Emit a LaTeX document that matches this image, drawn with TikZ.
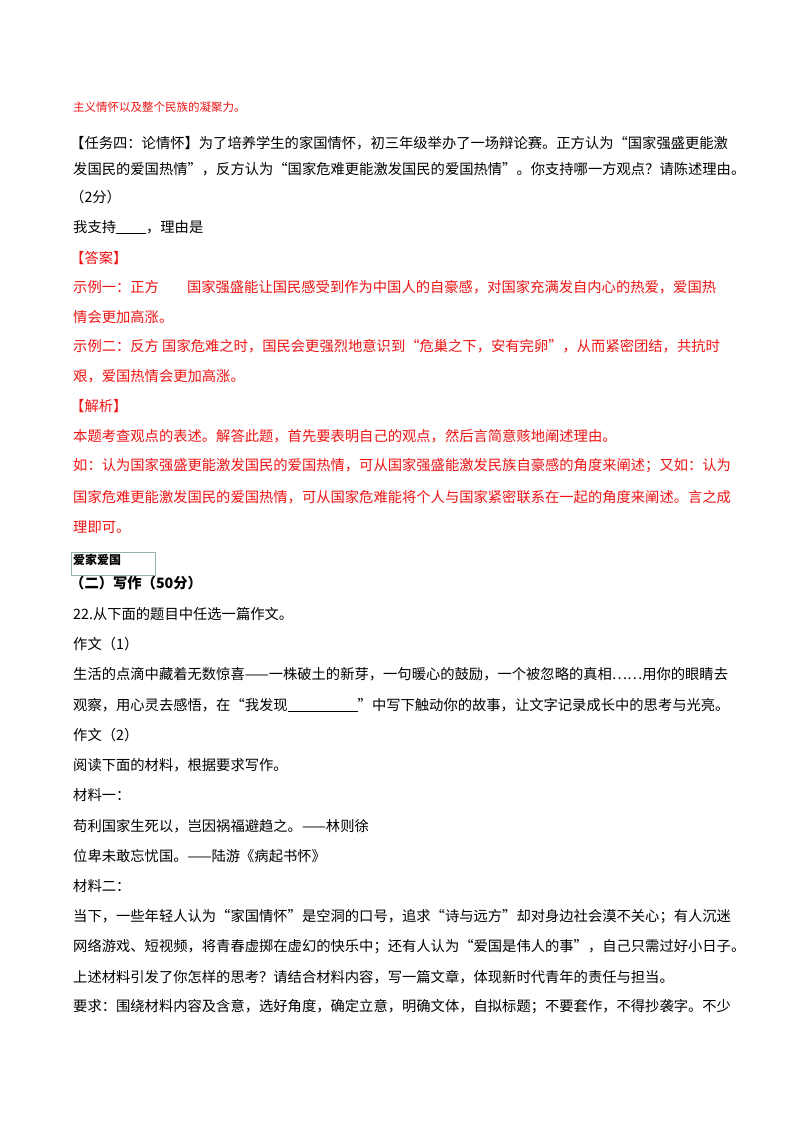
\documentclass[tikz,border=0pt]{standalone}
\usepackage{fontspec}
\newfontfamily\cjk{Noto Sans CJK SC}
\definecolor{ansred}{RGB}{240,20,20}
\begin{document}
\begin{tikzpicture}[x=1pt,y=-1pt,
  ln/.style={anchor=west,inner sep=0pt,font=\cjk\fontsize{14.3}{16}\selectfont},
  rl/.style={ln,text=ansred},
  bl/.style={ln,font=\cjk\bfseries\fontsize{14.3}{16}\selectfont}]
\useasboundingbox[fill=white] (0,0) rectangle (800,1132);
\node[rl,font=\cjk\fontsize{11.5}{14}\selectfont] (l1) at (73,107) {主义情怀以及整个民族的凝聚力。};
\node[ln] (l2) at (70,143) {【任务四：论情怀】为了培养学生的家国情怀，初三年级举办了一场辩论赛。正方认为“国家强盛更能激};
\node[ln] (l3) at (73,169) {发国民的爱国热情”，反方认为“国家危难更能激发国民的爱国热情”。你支持哪一方观点？请陈述理由。};
\node[ln] (l4) at (70,197) {（2分）};
\node[ln] (l5) at (73,227) {我支持\underline{\hspace{30pt}}，理由是};
\node[rl] (l6) at (70,258) {【答案】};
\node[rl] (l7) at (73,287) {示例一：正方\hspace{28pt}国家强盛能让国民感受到作为中国人的自豪感，对国家充满发自内心的热爱，爱国热};
\node[rl] (l8) at (73,317) {情会更加高涨。};
\node[rl] (l9) at (73,346) {示例二：反方 国家危难之时，国民会更强烈地意识到“危巢之下，安有完卵”，从而紧密团结，共抗时};
\node[rl] (l10) at (73,376) {艰，爱国热情会更加高涨。};
\node[rl] (l11) at (70,406) {【解析】};
\node[rl] (l12) at (73,436) {本题考查观点的表述。解答此题，首先要表明自己的观点，然后言简意赅地阐述理由。};
\node[rl] (l13) at (73,466) {如：认为国家强盛更能激发国民的爱国热情，可从国家强盛能激发民族自豪感的角度来阐述；又如：认为};
\node[rl] (l14) at (73,497) {国家危难更能激发国民的爱国热情，可从国家危难能将个人与国家紧密联系在一起的角度来阐述。言之成};
\node[rl] (l15) at (73,527) {理即可。};
\draw[draw=teal!40!gray!60,line width=1pt] (71,552) rectangle (155,575);
\node[bl,font=\cjk\bfseries\fontsize{12}{14}\selectfont] (box) at (73,560) {爱家爱国};
\node[bl] (l16) at (70,583) {（二）写作（50分）};
\node[ln] (l17) at (73,614) {22.从下面的题目中任选一篇作文。};
\node[ln] (l18) at (73,644) {作文（1）};
\node[ln] (l19) at (73,674) {生活的点滴中藏着无数惊喜——一株破土的新芽，一句暖心的鼓励，一个被忽略的真相……用你的眼睛去};
\node[ln] (l20) at (73,705) {观察，用心灵去感悟，在“我发现\underline{\hspace{70pt}}”中写下触动你的故事，让文字记录成长中的思考与光亮。};
\node[ln] (l21) at (73,735) {作文（2）};
\node[ln] (l22) at (73,765) {阅读下面的材料，根据要求写作。};
\node[ln] (l23) at (73,795) {材料一：};
\node[ln] (l24) at (73,826) {苟利国家生死以，岂因祸福避趋之。——林则徐};
\node[ln] (l25) at (73,856) {位卑未敢忘忧国。——陆游《病起书怀》};
\node[ln] (l26) at (73,886) {材料二：};
\node[ln] (l27) at (73,917) {当下，一些年轻人认为“家国情怀”是空洞的口号，追求“诗与远方”却对身边社会漠不关心；有人沉迷};
\node[ln] (l28) at (73,947) {网络游戏、短视频，将青春虚掷在虚幻的快乐中；还有人认为“爱国是伟人的事”，自己只需过好小日子。};
\node[ln] (l29) at (73,977) {上述材料引发了你怎样的思考？请结合材料内容，写一篇文章，体现新时代青年的责任与担当。};
\node[ln] (l30) at (73,1007) {要求：围绕材料内容及含意，选好角度，确定立意，明确文体，自拟标题；不要套作，不得抄袭字。不少};
\end{tikzpicture}
\end{document}
